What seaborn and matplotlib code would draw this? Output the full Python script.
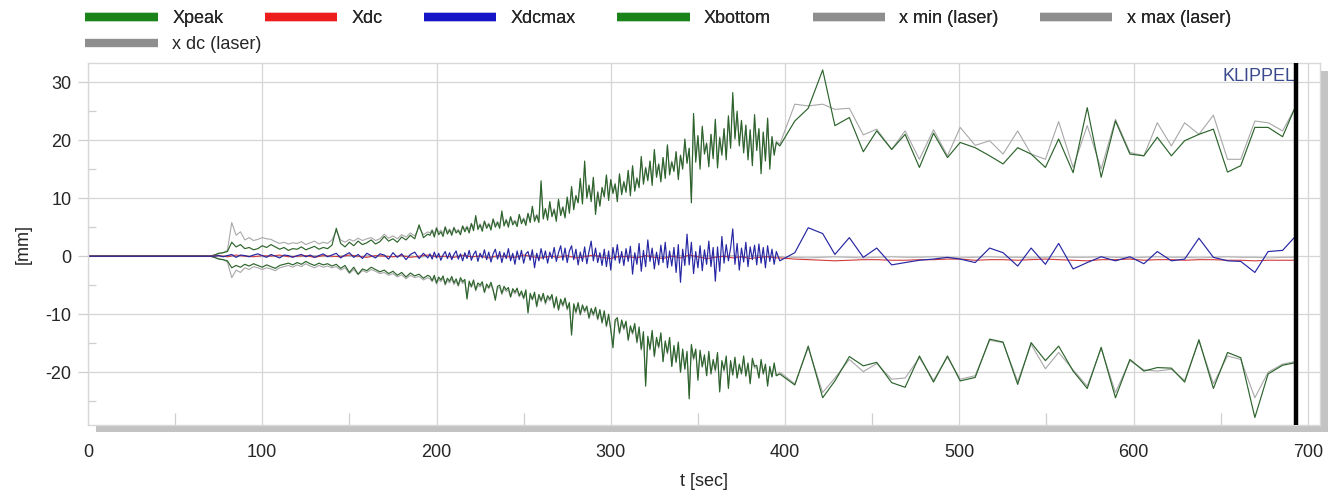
import numpy as np
import pandas as pd
import matplotlib
matplotlib.use("Agg")
import matplotlib.pyplot as plt
from matplotlib.lines import Line2D
from matplotlib.patches import Rectangle
from matplotlib.ticker import MultipleLocator
import seaborn as sns

# ---------------------------------------------------------------- data
# Phase A: quiet point at 0 s, then 70 ... 195 s every 2.5 s
t_phase_a = np.concatenate([[0.0], np.arange(70.0, 195.01, 2.5)])
# Phase B: 196.25 ... 395 s every 1.25 s
t_phase_b = np.arange(196.25, 395.01, 1.25)
# DC values logged every 5 s up to 395 s
t_dc = np.concatenate([[0.0], np.arange(70.0, 395.01, 5.0)])
# Phase C: slow logging until the end of the run
t_phase_c = [397.0, 405.6, 413.3, 421.6, 428.6, 436.9, 444.9, 452.6, 461.2, 468.9,
             477.1, 485.2, 493.2, 500.5, 509.1, 517.4, 525.1, 533.5, 541.2, 549.4,
             557.0, 565.3, 573.4, 581.4, 589.6, 597.9, 605.9, 613.6, 621.7, 629.3,
             637.5, 645.8, 653.9, 661.5, 669.6, 677.2, 685.5, 692.2]
t_end = 693.0

# ---- Xpeak
xpeak_a = [0.0,
    0.0, 0.2, 0.5, 0.6, 0.8, 2.4, 1.6, 2.0, 1.3, 1.5,
    1.1, 1.3, 1.8, 1.5, 2.0, 1.6, 1.2, 1.5, 1.0, 1.3,
    1.2, 1.6, 1.1, 1.4, 1.7, 1.2, 1.5, 1.3, 1.9, 4.8,
    2.2, 1.6, 2.4, 1.8, 2.6, 2.0, 2.3, 2.8, 2.1, 2.5,
    3.4, 2.6, 3.0, 2.4, 3.3, 2.8, 3.6, 3.0, 5.4, 3.2, 3.8]
xpeak_b = [
    3.6, 4.4, 3.3, 4.8, 3.7, 4.2, 3.4, 5.0, 3.8, 4.5, 3.6, 4.9, 4.0, 4.4, 3.7, 5.2,
    4.2, 5.0, 4.0, 5.6, 4.4, 7.0, 4.6, 5.4, 4.3, 6.0, 4.8, 5.5, 4.5, 6.4, 5.0, 5.8,
    4.8, 7.8, 5.2, 6.2, 5.0, 6.8, 5.4, 6.0, 5.1, 7.2, 5.6, 6.4, 5.3, 7.4, 5.8, 8.6,
    6.0, 7.0, 5.8, 13.0, 6.4, 8.2, 6.2, 9.4, 6.8, 8.0, 6.0, 9.8, 7.0, 8.4, 6.6, 10.2,
    7.4, 12.0, 8.0, 10.4, 9.2, 13.4, 9.0, 16.4, 10.0, 12.2, 9.4, 13.6, 7.2, 11.0, 8.6, 11.8,
    10.2, 14.0, 9.6, 13.2, 10.8, 12.4, 9.4, 14.2, 10.6, 12.8, 11.0, 14.8, 10.4, 15.6, 11.2, 13.4,
    11.8, 17.2, 12.4, 15.2, 13.0, 16.4, 12.2, 18.4, 13.6, 15.8, 12.8, 17.0, 13.4, 19.2, 14.0, 16.2,
    14.6, 18.0, 13.2, 17.4, 15.0, 20.2, 16.0, 18.6, 9.2, 24.6, 16.2, 20.8, 15.0, 22.4, 17.6, 19.4,
    15.4, 21.0, 16.8, 23.6, 15.2, 20.4, 17.4, 22.0, 16.6, 24.2, 18.6, 28.2, 20.2, 25.0, 19.0, 23.4,
    17.8, 22.6, 16.6, 21.8, 15.6, 24.4, 18.2, 22.0, 14.2, 21.4, 16.4, 23.8, 15.0, 20.6, 17.4, 19.6]
xpeak_c = [19.0, 23.3, 25.5, 32.1, 22.5, 23.9, 18.0, 21.6, 18.4, 21.0,
           15.3, 21.2, 17.0, 19.6, 18.7, 17.3, 15.9, 18.7, 17.6, 15.3,
           20.2, 14.4, 25.6, 13.6, 23.3, 17.6, 17.3, 20.5, 17.3, 19.9,
           21.0, 21.9, 14.5, 15.6, 22.2, 22.2, 20.6, 25.3]

# ---- x max (laser)
xmax_a = [0.0,
    0.0, 0.2, 0.4, 0.6, 1.0, 5.8, 3.6, 4.2, 2.8, 3.2,
    2.7, 2.9, 3.2, 3.0, 2.9, 2.5, 2.2, 2.4, 2.1, 2.3,
    2.2, 2.5, 2.0, 2.3, 2.6, 2.1, 2.4, 2.2, 2.8, 4.4,
    2.8, 2.4, 2.9, 2.6, 3.1, 2.7, 3.0, 3.2, 2.7, 3.0,
    3.8, 3.1, 3.5, 3.0, 3.7, 3.3, 4.0, 3.5, 5.0, 3.7, 4.2]
xmax_b = [
    4.0, 4.6, 3.8, 5.0, 4.1, 4.5, 3.9, 5.1, 4.2, 4.7, 4.0, 5.0, 4.3, 4.6, 4.1, 5.2,
    4.6, 5.2, 4.5, 5.7, 4.8, 6.6, 5.0, 5.6, 4.8, 6.1, 5.2, 5.7, 5.0, 6.4, 5.4, 6.0,
    5.3, 7.4, 5.6, 6.4, 5.5, 6.8, 5.8, 6.2, 5.6, 7.1, 6.0, 6.6, 5.8, 7.3, 6.2, 8.3,
    6.4, 7.2, 6.3, 12.4, 6.8, 8.2, 6.6, 9.3, 7.1, 8.2, 6.6, 9.6, 7.4, 8.6, 7.0, 10.0,
    7.9, 11.8, 8.4, 10.5, 9.4, 13.0, 9.4, 15.8, 10.3, 12.3, 9.8, 13.4, 7.8, 11.2, 9.0, 11.9,
    10.5, 13.8, 10.0, 13.2, 11.1, 12.6, 10.0, 14.0, 11.0, 12.9, 11.4, 14.6, 10.9, 15.4, 11.6, 13.6,
    12.3, 16.8, 12.8, 15.4, 13.4, 16.3, 12.8, 18.0, 14.0, 16.0, 13.3, 17.0, 13.9, 19.0, 14.5, 16.4,
    15.0, 18.0, 13.8, 17.4, 15.5, 19.8, 16.3, 18.6, 10.2, 24.0, 16.8, 20.6, 15.6, 22.0, 18.0, 19.6,
    16.0, 21.0, 17.3, 23.2, 15.8, 20.6, 17.9, 21.8, 17.1, 23.8, 19.0, 27.4, 20.6, 24.6, 19.5, 23.2,
    18.4, 22.4, 17.2, 21.6, 16.2, 23.8, 18.8, 21.8, 15.0, 21.2, 17.0, 23.4, 15.8, 20.6, 17.8, 19.8]
xmax_c = [19.3, 26.2, 25.9, 26.2, 25.3, 25.5, 20.9, 21.9, 18.4, 21.6,
          16.7, 21.8, 17.3, 22.2, 19.1, 19.9, 17.6, 21.6, 17.6, 16.7,
          23.2, 15.3, 22.5, 15.0, 23.6, 17.9, 17.3, 23.0, 19.0, 23.0,
          21.0, 24.3, 16.7, 16.7, 23.3, 23.0, 21.6, 25.3]

# ---- Xbottom
xbottom_a = [0.0,
    0.0, -0.2, -0.5, -0.6, -0.8, -2.0, -1.6, -1.9, -1.4, -1.7,
    -1.3, -1.6, -1.9, -1.5, -1.8, -2.1, -1.6, -1.4, -1.2, -1.5,
    -1.1, -1.4, -0.9, -1.3, -1.6, -1.2, -1.5, -1.3, -1.7, -1.4,
    -2.1, -1.6, -2.8, -1.9, -3.1, -2.2, -2.5, -1.9, -2.3, -2.7,
    -2.4, -3.0, -2.6, -3.3, -2.8, -3.6, -2.9, -3.4, -3.1, -3.8, -3.3]
xbottom_b = [
    -3.5, -4.2, -3.3, -4.6, -3.6, -4.1, -3.4, -4.8, -3.8, -4.3, -3.5, -4.6, -3.9, -5.0, -3.7, -4.4,
    -4.0, -7.4, -4.3, -5.2, -4.1, -5.8, -4.6, -5.0, -4.4, -6.2, -4.8, -5.4, -4.5, -5.8, -7.6, -5.2,
    -5.0, -6.4, -5.2, -5.8, -5.4, -7.0, -5.6, -6.2, -5.5, -6.8, -6.0, -7.2, -5.8, -9.8, -6.4, -7.4,
    -6.2, -8.6, -6.6, -7.6, -6.4, -8.0, -6.8, -7.4, -6.6, -8.8, -7.0, -9.2, -7.4, -8.4, -7.2, -9.0,
    -8.0, -13.6, -8.2, -9.6, -8.0, -10.0, -8.4, -9.4, -8.6, -10.6, -9.0, -10.0, -8.8, -10.8, -9.2, -11.4,
    -9.4, -12.0, -10.0, -12.6, -15.8, -11.0, -10.6, -13.2, -11.0, -12.4, -11.2, -14.4, -12.0, -13.2, -11.6, -14.8,
    -12.2, -16.0, -13.0, -22.4, -13.8, -16.0, -12.8, -17.2, -14.0, -15.6, -13.2, -18.2, -14.6, -16.6, -14.0, -19.0,
    -15.4, -18.2, -14.8, -20.0, -16.0, -19.4, -16.4, -24.6, -15.2, -17.6, -16.0, -21.4, -16.2, -19.0, -17.0, -20.6,
    -16.4, -20.2, -17.8, -19.6, -16.6, -23.4, -18.0, -19.6, -17.2, -22.8, -18.0, -20.4, -17.4, -21.0, -18.6, -20.2,
    -17.2, -20.6, -18.4, -22.0, -17.6, -19.0, -18.8, -21.0, -17.8, -20.2, -18.6, -22.4, -19.0, -20.8, -18.4, -20.6]
xbottom_c = [-20.3, -22.2, -15.5, -24.4, -21.5, -17.3, -18.9, -18.3, -21.8, -22.6,
             -17.2, -21.7, -17.2, -21.5, -20.9, -14.3, -14.8, -22.1, -14.9, -18.0,
             -15.5, -19.8, -22.8, -15.7, -24.4, -17.8, -19.8, -19.2, -19.3, -21.7,
             -14.4, -22.8, -16.6, -17.5, -27.8, -20.3, -18.8, -18.4]

# ---- x min (laser)
xmin_a = [0.0,
    0.0, -0.2, -0.4, -0.6, -1.0, -3.7, -2.4, -2.8, -2.0, -2.3,
    -1.8, -2.0, -2.3, -2.0, -2.2, -2.5, -2.0, -1.8, -1.6, -1.9,
    -1.5, -1.8, -1.3, -1.7, -2.0, -1.6, -1.9, -1.7, -2.0, -1.8,
    -2.4, -2.0, -3.0, -2.3, -3.2, -2.5, -2.8, -2.3, -2.6, -3.0,
    -2.8, -3.3, -3.0, -3.6, -3.2, -3.9, -3.3, -3.7, -3.5, -4.1, -3.7]
xmin_b = [
    -3.9, -4.4, -3.7, -4.8, -4.0, -4.4, -3.8, -5.0, -4.2, -4.6, -3.9, -4.9, -4.3, -5.2, -4.1, -4.7,
    -4.4, -7.0, -4.7, -5.4, -4.5, -6.0, -5.0, -5.3, -4.8, -6.3, -5.2, -5.6, -4.9, -6.0, -7.2, -5.5,
    -5.4, -6.6, -5.6, -6.1, -5.8, -7.1, -6.0, -6.5, -5.9, -7.0, -6.4, -7.4, -6.2, -9.4, -6.8, -7.6,
    -6.6, -8.8, -7.0, -7.9, -6.8, -8.3, -7.2, -7.7, -7.0, -9.0, -7.4, -9.4, -7.8, -8.7, -7.6, -9.3,
    -8.4, -13.0, -8.6, -9.9, -8.4, -10.2, -8.8, -9.7, -9.0, -10.8, -9.4, -10.3, -9.2, -11.0, -9.6, -11.6,
    -9.8, -12.2, -10.4, -12.8, -15.2, -11.3, -11.0, -13.4, -11.4, -12.7, -11.6, -14.6, -12.4, -13.5, -12.0, -15.0,
    -12.6, -16.2, -13.4, -21.8, -14.2, -16.2, -13.2, -17.4, -14.4, -15.9, -13.6, -18.0, -15.0, -16.9, -14.4, -19.0,
    -15.8, -18.4, -15.2, -20.0, -16.4, -19.6, -16.8, -24.0, -15.6, -17.9, -16.4, -21.0, -16.6, -19.2, -17.4, -20.6,
    -16.8, -20.4, -18.2, -19.9, -17.0, -23.0, -18.4, -19.9, -17.6, -22.4, -18.4, -20.6, -17.8, -21.0, -19.0, -20.4,
    -17.6, -20.8, -18.8, -21.8, -18.0, -19.3, -19.2, -21.0, -18.2, -20.4, -19.0, -22.0, -19.4, -20.8, -18.8, -20.6]
xmin_c = [-20.0, -22.0, -15.8, -23.5, -21.0, -17.8, -19.9, -18.5, -21.2, -21.0,
          -17.5, -21.4, -17.4, -21.2, -20.6, -14.5, -14.9, -21.6, -15.2, -19.4,
          -16.6, -19.6, -22.4, -15.9, -23.5, -18.0, -19.6, -19.8, -19.5, -21.4,
          -14.6, -22.0, -17.2, -17.8, -24.4, -20.0, -18.6, -18.2]

# ---- Xdcmax
xdcmax_a = [0.0,
    0.0, 0.0, 0.1, -0.1, 0.1, 0.3, -0.2, 0.2, 0.1, -0.1,
    0.2, 0.4, 0.1, -0.2, 0.3, 0.0, -0.3, 0.2, 0.1, -0.2,
    0.1, 0.3, -0.1, 0.2, -0.2, 0.1, 0.4, -0.1, 0.2, 0.5,
    -0.3, 0.2, 0.6, -0.2, 0.3, -0.4, 0.5, 0.1, -0.3, 0.4,
    0.2, -0.5, 0.6, -0.2, 0.4, -0.6, 0.3, 0.7, -0.4, 0.5, -0.3]
xdcmax_b = [
    0.4, -0.5, 0.7, -0.3, 0.5, -0.7, 0.2, 0.8, -0.4, 0.6, -0.6, 0.3, 0.9, -0.5, 0.4, -0.8,
    0.6, -0.4, 1.0, -0.7, 0.3, 0.9, -0.9, 0.5, -0.3, 1.1, -0.6, 0.7, -1.0, 0.4, 1.2, -0.5,
    0.8, -1.1, 0.6, -0.4, 1.3, -0.8, 0.5, -1.4, 0.9, -0.6, 1.0, -1.2, 0.4, 0.8, -0.7, 1.1,
    -2.0, 0.5, -0.8, 1.3, -0.5, 0.9, -1.2, 0.7, -0.4, 1.5, -0.9, 0.6, 1.8, -0.7, 1.4, -1.1,
    0.9, 1.8, -0.6, 1.2, -1.5, 0.7, -0.9, 1.6, -1.3, 0.8, 2.6, -0.8, 1.4, -1.1, 0.6, -1.6,
    1.2, -1.8, 0.9, -2.4, 1.5, -0.7, 2.0, -1.2, 0.8, -1.6, 1.3, -0.9, 1.7, -3.1, 0.6, -1.4,
    2.2, -2.6, 1.0, -1.8, 2.8, -0.9, 1.4, -2.2, 0.7, -1.5, 1.9, -1.1, 2.4, -2.0, 0.9, -1.7,
    1.5, -2.8, 2.0, -4.5, 1.2, -1.6, 3.8, -1.5, 2.4, -3.0, 0.8, -2.0, 1.8, -2.5, 1.1, -1.4,
    2.6, -1.8, 1.5, -4.3, 1.6, -2.6, 3.4, -1.2, 2.0, -0.8, 1.4, 4.7, -1.4, 2.2, -2.4, 1.4,
    -1.0, 2.4, -1.8, 1.6, -0.6, 1.9, -1.5, 2.1, -1.2, 1.5, -2.0, 1.8, -0.9, 1.2, -1.4, 0.8]
xdcmax_c = [-0.8, 0.6, 4.9, 3.9, 0.3, 3.2, -0.2, 1.4, -1.5, -1.1,
            -0.7, -0.5, -0.2, -0.5, -1.1, 1.4, 0.6, -1.7, 1.4, -1.4,
            2.2, -2.2, -1.1, -0.1, -0.8, -0.1, -1.3, 0.8, -0.8, -0.5,
            3.1, -0.2, -0.8, -0.9, -2.8, 0.8, 1.0, 3.2]

# ---- Xdc
xdc_ab = [0.0,
    0.0, 0.1, -0.1, 0.2, 0.0, -0.1, 0.1, 0.0, 0.2, -0.1,
    0.0, 0.1, -0.2, 0.1, 0.0, -0.1, 0.2, 0.0, -0.2, 0.1,
    0.0, -0.1, 0.1, -0.2, 0.0, 0.2, -0.1, 0.0, -0.2, 0.1,
    -0.1, 0.0, -0.3, 0.1, -0.1, -0.2, 0.2, -0.1, -0.3, 0.0,
    -0.2, 0.1, -0.3, -0.1, 0.2, -0.2, -0.4, 0.0, -0.1, -0.3,
    0.1, -0.2, -0.4, 0.0, -0.3, 0.2, -0.1, -0.4, -0.2, 0.0,
    -0.3, -0.1, -0.4, -0.2, -0.1, -0.3]
xdc_c = [-0.3, -0.5, -0.6, -0.7, -0.8, -0.7, -0.6, -0.6, -0.7, -0.7,
         -0.6, -0.6, -0.5, -0.5, -0.7, -0.6, -0.6, -0.7, -0.6, -0.5,
         -0.6, -0.7, -0.8, -0.6, -0.6, -0.5, -0.7, -0.6, -0.6, -0.7,
         -0.6, -0.6, -0.7, -0.7, -0.8, -0.7, -0.7, -0.7]

# ---- x dc (laser)
xdc_laser_ab = [0.0,
    0.0, 0.0, 0.1, -0.1, 0.1, 0.0, -0.1, 0.1, 0.0, 0.1,
    -0.1, 0.0, 0.1, 0.0, -0.1, 0.1, 0.0, -0.1, 0.1, 0.0,
    0.1, -0.1, 0.0, 0.1, -0.2, 0.0, 0.1, -0.1, 0.0, 0.2,
    -0.1, 0.1, 0.0, -0.2, 0.1, 0.0, -0.1, 0.2, 0.0, -0.1,
    0.1, -0.2, 0.0, 0.1, -0.1, 0.2, 0.0, -0.2, 0.1, 0.0,
    -0.1, 0.2, -0.1, 0.0, 0.1, -0.2, 0.0, 0.1, -0.1, 0.0,
    0.1, -0.1, 0.0, 0.1, -0.1, 0.0]
xdc_laser_c = [-0.1, -0.2, -0.3, -0.2, -0.1, -0.2, -0.3, -0.2, -0.1, -0.2,
               -0.2, -0.1, -0.2, -0.3, -0.2, -0.1, -0.2, -0.2, -0.3, -0.2,
               -0.1, -0.2, -0.2, -0.1, -0.2, -0.3, -0.2, -0.1, -0.2, -0.2,
               -0.3, -0.2, -0.1, -0.2, -0.2, -0.3, -0.2, -0.2]

legend_labels = ["Xpeak", "Xdc", "Xdcmax", "Xbottom",
                 "x min (laser)", "x max (laser)", "x dc (laser)"]

# ---------------------------------------------------------------- frame
def series(name, parts):
    t = np.concatenate([np.asarray(p[0], float) for p in parts])
    v = np.concatenate([np.asarray(p[1], float) for p in parts])
    return pd.DataFrame({"t": t, "x": v, "series": name})

df = pd.concat([
    series("x max (laser)", [(t_phase_a, xmax_a), (t_phase_b, xmax_b), (t_phase_c, xmax_c)]),
    series("x min (laser)", [(t_phase_a, xmin_a), (t_phase_b, xmin_b), (t_phase_c, xmin_c)]),
    series("x dc (laser)", [(t_dc, xdc_laser_ab), (t_phase_c, xdc_laser_c)]),
    series("Xpeak", [(t_phase_a, xpeak_a), (t_phase_b, xpeak_b), (t_phase_c, xpeak_c)]),
    series("Xbottom", [(t_phase_a, xbottom_a), (t_phase_b, xbottom_b), (t_phase_c, xbottom_c)]),
    series("Xdc", [(t_dc, xdc_ab), (t_phase_c, xdc_c)]),
    series("Xdcmax", [(t_phase_a, xdcmax_a), (t_phase_b, xdcmax_b), (t_phase_c, xdcmax_c)]),
], ignore_index=True)

# ---------------------------------------------------------------- style
sns.set_style("white")
plt.rcParams["font.family"] = ["Liberation Sans", "DejaVu Sans"]
plt.rcParams["axes.unicode_minus"] = False

line_style = {
    "x max (laser)": ("#a8a8a8", 0.8),
    "x min (laser)": ("#a8a8a8", 0.8),
    "x dc (laser)":  ("#b4b4b4", 0.8),
    "Xpeak":         ("#2c642c", 0.85),
    "Xbottom":       ("#2c642c", 0.85),
    "Xdc":           ("#d23a3a", 0.8),
    "Xdcmax":        ("#2626a4", 0.85),
}
legend_colors = {
    "Xpeak": "#1a841a", "Xdc": "#ee1d1d", "Xdcmax": "#1515c8",
    "Xbottom": "#1a841a", "x min (laser)": "#8e8e8e",
    "x max (laser)": "#8e8e8e", "x dc (laser)": "#8e8e8e",
}

fig = plt.figure(figsize=(13.35, 4.91), dpi=100)
ax = fig.add_axes([0.0659, 0.1344, 0.9229, 0.7373])

for name, sub in df.groupby("series", sort=False):
    color, lw = line_style[name]
    sns.lineplot(data=sub, x="t", y="x", ax=ax, color=color, linewidth=lw,
                 estimator=None, sort=False, legend=False)

# end-of-measurement marker
ax.axvline(t_end, color="black", linewidth=3.2, zorder=5)
ax.text(t_end, 0.985, "KLIPPEL", transform=ax.get_xaxis_transform(),
        ha="right", va="top", color="#3a4a8c", fontsize=13)

ax.set_xlim(0, 707)
ax.set_ylim(-29.1, 33.3)
ax.xaxis.set_major_locator(MultipleLocator(100))
ax.xaxis.set_minor_locator(MultipleLocator(50))
ax.yaxis.set_major_locator(MultipleLocator(10))
ax.yaxis.set_minor_locator(MultipleLocator(5))
ax.grid(True, which="major", color="#d6d6d6", linewidth=0.9)
ax.set_axisbelow(True)

tick_grey = "#cfcfcf"
ax.tick_params(axis="y", which="major", direction="out", length=7, width=0.9,
               color=tick_grey, labelsize=13, pad=5, left=True)
ax.tick_params(axis="y", which="minor", direction="in", length=6, width=0.9,
               color=tick_grey, left=True)
ax.tick_params(axis="x", which="major", length=0, labelsize=13, pad=14)
ax.tick_params(axis="x", which="minor", direction="in", length=9, width=0.9,
               color=tick_grey, bottom=True)

for sp in ax.spines.values():
    sp.set_color("#d8d8d8")
    sp.set_linewidth(1.0)

ax.set_xlabel("t [sec]", fontsize=13, labelpad=8)
ax.set_ylabel("[mm]", fontsize=13, labelpad=10)

# drop shadow of the plot frame
shadow = "#c3c3c3"
ax.add_patch(Rectangle((0.0065, -0.0193), 1.0, 0.0193, transform=ax.transAxes,
                       facecolor=shadow, edgecolor="none", clip_on=False))
ax.add_patch(Rectangle((1.0008, -0.0193), 0.0057, 0.997, transform=ax.transAxes,
                       facecolor=shadow, edgecolor="none", clip_on=False))

# legend in two rows above the plot
handles = [Line2D([], [], color=legend_colors[n], linewidth=6, solid_capstyle="butt")
           for n in legend_labels]
leg_kw = dict(frameon=False, fontsize=13, handlelength=4.0, handletextpad=0.8,
              columnspacing=2.3, borderaxespad=0, borderpad=0)
leg1 = fig.legend(handles[:6], legend_labels[:6], loc="upper left",
                  bbox_to_anchor=(0.064, 0.98), ncol=6, **leg_kw)
fig.legend(handles[6:], legend_labels[6:], loc="upper left",
           bbox_to_anchor=(0.064, 0.927), ncol=1, **leg_kw)
fig.add_artist(leg1)

fig.savefig("out.png", dpi=100)
